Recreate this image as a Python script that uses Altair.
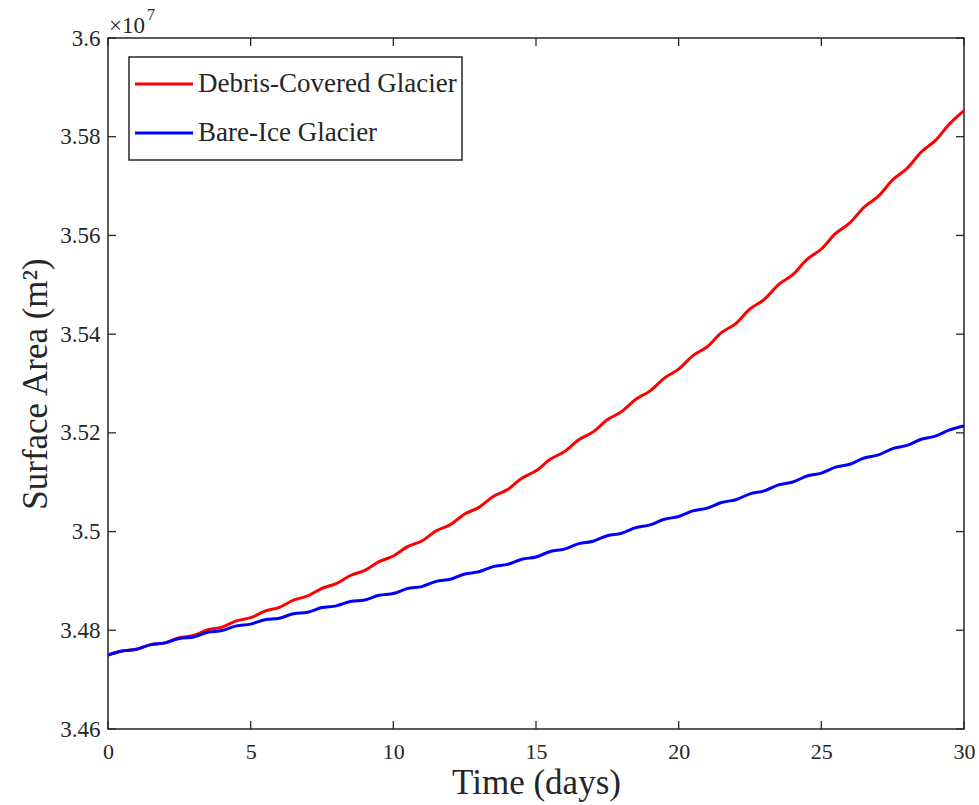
import altair as alt
import pandas as pd

# ---------------- data (values in units of 1e7 m^2) ----------------
days = [0, 0.5, 1, 1.5, 2, 2.5, 3, 3.5, 4, 4.5, 5, 5.5, 6, 6.5, 7, 7.5, 8, 8.5, 9, 9.5,
        10, 10.5, 11, 11.5, 12, 12.5, 13, 13.5, 14, 14.5, 15, 15.5, 16, 16.5, 17, 17.5,
        18, 18.5, 19, 19.5, 20, 20.5, 21, 21.5, 22, 22.5, 23, 23.5, 24, 24.5, 25, 25.5,
        26, 26.5, 27, 27.5, 28, 28.5, 29, 29.5, 30]

debris = [3.47500, 3.47580, 3.47615, 3.47710, 3.47745, 3.47850, 3.47895, 3.48010, 3.48065,
          3.48190, 3.48255, 3.48390, 3.48465, 3.48610, 3.48695, 3.48850, 3.48945, 3.49110,
          3.49215, 3.49390, 3.49505, 3.49695, 3.49810, 3.50015, 3.50140, 3.50355, 3.50490,
          3.50710, 3.50850, 3.51080, 3.51230, 3.51465, 3.51620, 3.51860, 3.52020, 3.52265,
          3.52430, 3.52680, 3.52850, 3.53110, 3.53290, 3.53565, 3.53745, 3.54030, 3.54215,
          3.54510, 3.54705, 3.55005, 3.55205, 3.55515, 3.55725, 3.56040, 3.56255, 3.56575,
          3.56795, 3.57125, 3.57355, 3.57690, 3.57925, 3.58265, 3.58530]

bare = [3.47500, 3.47580, 3.47615, 3.47710, 3.47745, 3.47835, 3.47865, 3.47960, 3.47995,
        3.48090, 3.48125, 3.48215, 3.48245, 3.48335, 3.48365, 3.48460, 3.48495, 3.48585,
        3.48615, 3.48710, 3.48745, 3.48845, 3.48885, 3.48990, 3.49035, 3.49140, 3.49185,
        3.49290, 3.49335, 3.49440, 3.49485, 3.49595, 3.49645, 3.49755, 3.49805, 3.49915,
        3.49965, 3.50080, 3.50135, 3.50250, 3.50305, 3.50420, 3.50475, 3.50590, 3.50645,
        3.50765, 3.50825, 3.50945, 3.51005, 3.51125, 3.51185, 3.51305, 3.51365, 3.51490,
        3.51555, 3.51680, 3.51745, 3.51870, 3.51935, 3.52060, 3.52140]

x_ticks = [0, 5, 10, 15, 20, 25, 30]
y_ticks = [3.46, 3.48, 3.50, 3.52, 3.54, 3.56, 3.58, 3.60]
series_names = ["Debris-Covered Glacier", "Bare-Ice Glacier"]
series_colors = ["#FF0000", "#0000FF"]

# ---------------- styling ----------------
W, H = 856, 691
FONT = "Liberation Serif"
INK = "#262626"
TICK = 8

xs = alt.Scale(domain=[0, 30], nice=False, zero=False)
ys = alt.Scale(domain=[3.46, 3.60], nice=False, zero=False)

x_axis = alt.Axis(values=x_ticks, title="Time (days)", format="d", labelFlush=False,
                  ticks=False, domain=False, grid=False, labelFont=FONT, labelFontSize=22,
                  labelColor=INK, labelPadding=12, titleFont=FONT, titleFontSize=35,
                  titleFontWeight="normal", titleColor=INK, titlePadding=3)
y_axis = alt.Axis(values=y_ticks, title="Surface Area (m²)", format=".2~f", labelFlush=False,
                  ticks=False, domain=False, grid=False, labelFont=FONT, labelFontSize=23,
                  labelColor=INK, labelPadding=8, titleFont=FONT, titleFontSize=35,
                  titleFontWeight="normal", titleColor=INK, titlePadding=6)

X = alt.X("t:Q", scale=xs, axis=x_axis)
Y = alt.Y("v:Q", scale=ys, axis=y_axis)

df_red = pd.DataFrame({"t": days, "v": debris})
df_blue = pd.DataFrame({"t": days, "v": bare})

red_line = alt.Chart(df_red).mark_line(color=series_colors[0], strokeWidth=3,
                                       interpolate="monotone").encode(x=X, y=Y)
blue_line = alt.Chart(df_blue).mark_line(color=series_colors[1], strokeWidth=3,
                                         interpolate="monotone").encode(x=X, y=Y)

# inward ticks on all four sides (MATLAB box style)
xt = pd.DataFrame({"t": x_ticks})
yt = pd.DataFrame({"v": y_ticks})
tick_style = dict(color=INK, strokeWidth=1.3)
ticks_bottom = alt.Chart(xt).mark_rule(**tick_style).encode(
    x=X, y=alt.value(H), y2=alt.value(H - TICK))
ticks_top = alt.Chart(xt).mark_rule(**tick_style).encode(
    x=X, y=alt.value(0), y2=alt.value(TICK))
ticks_left = alt.Chart(yt).mark_rule(**tick_style).encode(
    y=Y, x=alt.value(0), x2=alt.value(TICK))
ticks_right = alt.Chart(yt).mark_rule(**tick_style).encode(
    y=Y, x=alt.value(W), x2=alt.value(W - TICK))

# exponent label  x10^7
one = pd.DataFrame({"a": [0]})
exp_base = alt.Chart(one).mark_text(text="×10", font=FONT, fontSize=23, color=INK,
                                    align="left", baseline="alphabetic").encode(
    x=alt.value(1), y=alt.value(-5))
exp_pow = alt.Chart(one).mark_text(text="7", font=FONT, fontSize=16, color=INK,
                                   align="left", baseline="alphabetic").encode(
    x=alt.value(39), y=alt.value(-18))

# legend box
leg_box = alt.Chart(one).mark_rect(fill="white", stroke=INK, strokeWidth=1.5).encode(
    x=alt.value(21), x2=alt.value(354), y=alt.value(19), y2=alt.value(122))
leg_layers = [leg_box]
for i, (name, col) in enumerate(zip(series_names, series_colors)):
    yy = 46 + i * 49
    leg_layers.append(alt.Chart(one).mark_rule(color=col, strokeWidth=3).encode(
        x=alt.value(27), x2=alt.value(85), y=alt.value(yy)))
    leg_layers.append(alt.Chart(one).mark_text(text=name, font=FONT, fontSize=27, color=INK,
                                               align="left", baseline="middle").encode(
        x=alt.value(90), y=alt.value(yy)))

chart = alt.layer(
    red_line, blue_line, ticks_bottom, ticks_top, ticks_left, ticks_right,
    exp_base, exp_pow, *leg_layers
).properties(
    width=W, height=H,
    autosize=alt.AutoSizeParams(type="none"),
    padding={"left": 108, "top": 38, "right": 15, "bottom": 76},
    background="white",
).configure_view(stroke=INK, strokeWidth=1.5)

chart.save("out.html", embed_options={"renderer": "svg", "actions": False})
